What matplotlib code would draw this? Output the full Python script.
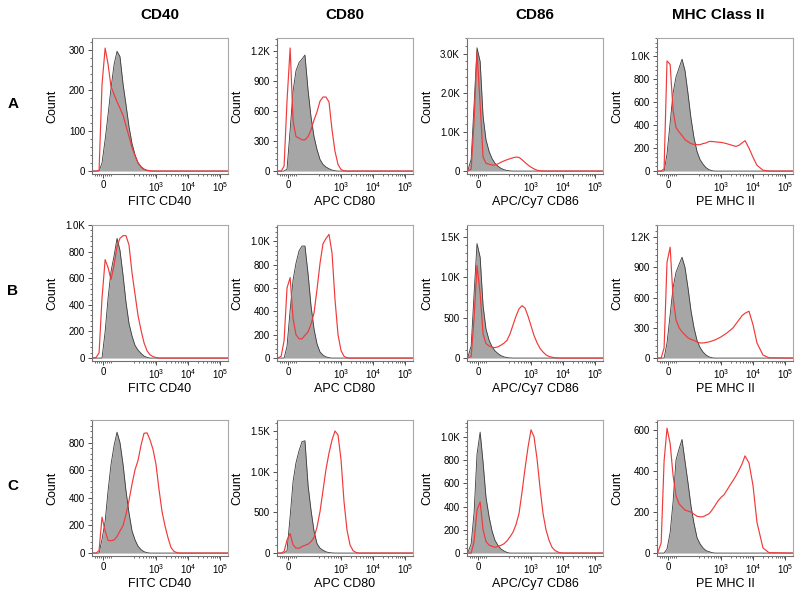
import matplotlib
matplotlib.use("Agg")
import matplotlib.pyplot as plt
from matplotlib.ticker import FixedLocator, FixedFormatter, FuncFormatter, MultipleLocator, AutoMinorLocator

plt.rcParams['font.family'] = ['Liberation Sans', 'DejaVu Sans']
plt.rcParams['mathtext.fontset'] = 'custom'
plt.rcParams['mathtext.rm'] = 'Liberation Sans'
plt.rcParams['mathtext.it'] = 'Liberation Sans:italic'
plt.rcParams['mathtext.bf'] = 'Liberation Sans:bold'

# fluorescence channel bins (shared by every histogram)
channel = [-50, -33, -19, -5, 10, 24, 38, 53, 67, 81, 96, 116, 144, 179, 222, 275, 341,
           423, 525, 650, 807, 1000, 1240, 1540, 1910, 2370, 2930, 3640, 4510, 5600,
           7450, 9930, 13200, 20300, 31300, 170000]

markers = ["CD40", "CD80", "CD86", "MHC Class II"]
xlabels = ["FITC CD40", "APC CD80", "APC/Cy7 CD86", "PE MHC II"]
rows = ["A", "B", "C"]

# counts per bin: gray = isotype / unstained control, red = stained sample
a_cd40_gray = [0, 0, 0, 20, 78, 140, 205, 265, 297, 284, 215, 165, 110, 68, 40, 20, 10, 4, 1,
               0, 0, 0, 0, 0, 0, 0, 0, 0, 0, 0, 0, 0, 0, 0, 0, 0]
a_cd40_red = [0, 0, 2, 215, 305, 265, 210, 190, 172, 156, 138, 112, 86, 58, 38, 21, 11, 5, 2, 1,
              0, 0, 0, 0, 0, 0, 0, 0, 0, 0, 0, 0, 0, 0, 0, 0]
a_cd80_gray = [0, 0, 0, 20, 411, 800, 1003, 1085, 1120, 1160, 806, 543, 345, 214, 115, 66, 40, 23,
               10, 3, 0, 0, 0, 0, 0, 0, 0, 0, 0, 0, 0, 0, 0, 0, 0, 0]
a_cd80_red = [0, 0, 50, 700, 1230, 500, 345, 329, 312, 312, 345, 411, 510, 592, 700, 740, 740, 690,
              411, 197, 66, 16, 3, 0, 0, 0, 0, 0, 0, 0, 0, 0, 0, 0, 0, 0]
a_cd86_gray = [0, 300, 1700, 3150, 2800, 1400, 800, 500, 320, 200, 120, 70, 35, 15, 5,
               0, 0, 0, 0, 0, 0, 0, 0, 0, 0, 0, 0, 0, 0, 0, 0, 0, 0, 0, 0, 0]
a_cd86_red = [0, 50, 1300, 3050, 1700, 360, 200, 175, 155, 155, 185, 225, 260, 290, 315, 340, 357,
              350, 290, 220, 155, 100, 55, 22, 8, 2, 0, 0, 0, 0, 0, 0, 0, 0, 0, 0]
a_mhc_gray = [0, 0, 0, 150, 420, 680, 820, 900, 975, 878, 670, 460, 290, 170, 100, 60, 30, 12, 3,
              0, 0, 0, 0, 0, 0, 0, 0, 0, 0, 0, 0, 0, 0, 0, 0, 0]
a_mhc_red = [0, 0, 20, 960, 930, 530, 380, 340, 310, 274, 255, 240, 232, 230, 230, 240, 245, 258,
             258, 255, 252, 250, 245, 238, 230, 222, 215, 225, 245, 265, 200, 120, 50, 8, 0, 0]

b_cd40_gray = [0, 0, 0, 0, 200, 450, 650, 770, 900, 810, 620, 420, 260, 165, 95, 60, 35, 15, 5,
               0, 0, 0, 0, 0, 0, 0, 0, 0, 0, 0, 0, 0, 0, 0, 0, 0]
b_cd40_red = [0, 5, 40, 450, 740, 680, 590, 700, 840, 900, 920, 920, 850, 640, 479, 320, 210, 115,
              55, 25, 11, 4, 0, 0, 0, 0, 0, 0, 0, 0, 0, 0, 0, 0, 0, 0]
b_cd80_gray = [0, 0, 0, 100, 411, 670, 813, 920, 960, 960, 720, 450, 250, 120, 52, 25, 10, 3,
               0, 0, 0, 0, 0, 0, 0, 0, 0, 0, 0, 0, 0, 0, 0, 0, 0, 0]
b_cd80_red = [0, 15, 150, 600, 690, 340, 200, 165, 165, 195, 225, 290, 385, 590, 813, 980, 1025,
              1060, 900, 500, 200, 65, 15, 2, 0, 0, 0, 0, 0, 0, 0, 0, 0, 0, 0, 0]
b_cd86_gray = [0, 150, 800, 1420, 1250, 650, 360, 220, 140, 90, 55, 30, 15, 6, 2,
               0, 0, 0, 0, 0, 0, 0, 0, 0, 0, 0, 0, 0, 0, 0, 0, 0, 0, 0, 0, 0]
b_cd86_red = [0, 20, 500, 1150, 800, 300, 180, 150, 135, 130, 140, 160, 185, 220, 300, 410, 520,
              610, 650, 620, 520, 400, 280, 190, 120, 75, 40, 20, 10, 4, 0, 0, 0, 0, 0, 0]
b_mhc_gray = [0, 0, 0, 150, 430, 700, 850, 930, 1000, 900, 690, 470, 300, 175, 105, 60, 30, 12, 3,
              0, 0, 0, 0, 0, 0, 0, 0, 0, 0, 0, 0, 0, 0, 0, 0, 0]
b_mhc_red = [0, 0, 100, 950, 1100, 600, 380, 300, 260, 230, 200, 185, 175, 160, 150, 150, 155, 160,
             170, 180, 195, 210, 230, 250, 275, 300, 340, 380, 420, 445, 465, 330, 150, 30, 3, 0]

c_cd40_gray = [0, 0, 0, 100, 230, 450, 640, 780, 875, 800, 640, 450, 290, 160, 95, 50, 25, 10, 3,
               0, 0, 0, 0, 0, 0, 0, 0, 0, 0, 0, 0, 0, 0, 0, 0, 0]
c_cd40_red = [0, 0, 20, 260, 160, 92, 89, 95, 120, 160, 200, 280, 380, 500, 603, 670, 780, 867,
              870, 820, 750, 640, 460, 300, 196, 110, 40, 12, 3, 0, 0, 0, 0, 0, 0, 0]
c_cd80_gray = [0, 0, 0, 30, 450, 880, 1110, 1260, 1370, 1380, 830, 530, 270, 115, 60, 35, 15, 6, 2,
               0, 0, 0, 0, 0, 0, 0, 0, 0, 0, 0, 0, 0, 0, 0, 0, 0]
c_cd80_red = [0, 0, 20, 160, 240, 100, 61, 60, 80, 95, 110, 140, 190, 320, 511, 770, 1030, 1230,
              1390, 1500, 1450, 1150, 633, 280, 100, 30, 8, 0, 0, 0, 0, 0, 0, 0, 0, 0]
c_cd86_gray = [0, 80, 350, 850, 1040, 780, 480, 310, 190, 110, 65, 35, 18, 5,
               0, 0, 0, 0, 0, 0, 0, 0, 0, 0, 0, 0, 0, 0, 0, 0, 0, 0, 0, 0, 0, 0]
c_cd86_red = [0, 0, 100, 370, 440, 200, 100, 68, 58, 50, 57, 67, 80, 105, 140, 180, 245, 340, 525,
              726, 910, 1060, 1000, 810, 560, 340, 200, 110, 50, 22, 5, 0, 0, 0, 0, 0]
c_mhc_gray = [0, 0, 0, 20, 100, 250, 454, 510, 555, 450, 340, 230, 145, 75, 45, 25, 12, 7, 2,
              0, 0, 0, 0, 0, 0, 0, 0, 0, 0, 0, 0, 0, 0, 0, 0, 0]
c_mhc_red = [0, 50, 450, 610, 535, 380, 280, 240, 225, 210, 205, 200, 190, 180, 177, 177, 185, 192,
             210, 232, 255, 272, 285, 308, 332, 354, 378, 405, 435, 475, 440, 330, 150, 25, 2, 0]

grays = [[a_cd40_gray, a_cd80_gray, a_cd86_gray, a_mhc_gray],
         [b_cd40_gray, b_cd80_gray, b_cd86_gray, b_mhc_gray],
         [c_cd40_gray, c_cd80_gray, c_cd86_gray, c_mhc_gray]]
reds = [[a_cd40_red, a_cd80_red, a_cd86_red, a_mhc_red],
        [b_cd40_red, b_cd80_red, b_cd86_red, b_mhc_red],
        [c_cd40_red, c_cd80_red, c_cd86_red, c_mhc_red]]

# y tick step and top of y range for each panel
ysteps = [[100, 300, 1000, 200], [200, 200, 500, 300], [200, 500, 200, 200]]
ytops = [[330, 1330, 3400, 1160], [1000, 1140, 1650, 1320], [963, 1635, 1144, 650]]

W, H = 800, 596
lefts = [92, 277, 467, 657]
tops = [38, 225, 420]
size = 136

fig = plt.figure(figsize=(W / 100, H / 100), dpi=100)


def kfmt(v, _):
    if v >= 1000:
        return f"{v / 1000:.1f}K"
    return f"{v:.0f}"


x_minor = [-40, -30, -20, -10, 10, 20, 30, 40] + \
          [m * 10 ** k for k in (2, 3, 4) for m in range(2, 10)]

for r in range(3):
    for c in range(4):
        ax = fig.add_axes([lefts[c] / W, (H - tops[r] - size) / H, size / W, size / H])
        ax.set_xscale('symlog', linthresh=100, linscale=0.585)
        ax.fill_between(channel, grays[r][c], 0, color='#a6a6a6', lw=0)
        ax.plot(channel, grays[r][c], color='#3a3a3a', lw=0.6)
        ax.plot(channel, reds[r][c], color='#f03a3a', lw=0.85)

        ax.set_xlim(-53, 1.75e5)
        top = ytops[r][c]
        ax.set_ylim(-0.022 * top, top)

        ax.xaxis.set_major_locator(FixedLocator([0, 1e3, 1e4, 1e5]))
        ax.xaxis.set_major_formatter(FixedFormatter(['0', r'$10^3$', r'$10^4$', r'$10^5$']))
        ax.xaxis.set_minor_locator(FixedLocator(x_minor))
        ax.yaxis.set_major_locator(MultipleLocator(ysteps[r][c]))
        ax.yaxis.set_minor_locator(AutoMinorLocator(5))
        ax.yaxis.set_major_formatter(FuncFormatter(kfmt))

        ax.tick_params(which='major', length=3, width=0.6, labelsize=7, pad=2, color='#333333')
        ax.tick_params(axis='x', which='major', pad=1.5)
        ax.tick_params(which='minor', length=1.6, width=0.5, color='#333333')
        for side in ('top', 'right'):
            ax.spines[side].set_color('#a8a8a8')
        for side in ('left', 'bottom'):
            ax.spines[side].set_color('#707070')
        for sp in ax.spines.values():
            sp.set_linewidth(0.8)

        ax.set_ylabel("Count", fontsize=9)
        ax.yaxis.set_label_coords(-0.25, 0.5)
        ax.set_xlabel(xlabels[c], fontsize=9)
        ax.xaxis.set_label_coords(0.5, -0.165)

title_x = [160, 345, 535, 718]
for c in range(4):
    fig.text(title_x[c] / W, 1 - 15 / H, markers[c], fontsize=11, fontweight='bold',
             ha='center', va='center')
for r in range(3):
    fig.text(13 / W, 1 - (tops[r] + 66) / H, rows[r], fontsize=11, fontweight='bold',
             ha='center', va='center')

fig.savefig("out.png", dpi=100)
